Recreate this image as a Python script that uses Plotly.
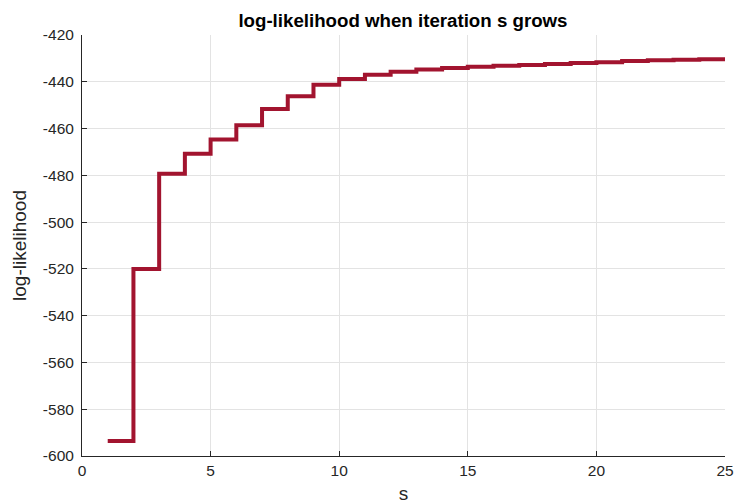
import plotly.graph_objects as go

# ── Datos ────────────────────────────────────────────────────────────────────
s_iter = list(range(1, 26))
loglik = [
    -593.6, -520.0, -479.3, -470.8, -464.7, -458.6, -451.6, -446.2, -441.3,
    -438.8, -437.0, -435.7, -434.8, -434.1, -433.6, -433.2, -432.8, -432.4,
    -432.0, -431.7, -431.1, -430.8, -430.6, -430.4, -430.3,
]
x_ticks = [0, 5, 10, 15, 20, 25]
y_ticks = list(range(-600, -419, 20))
y_tick_text = [str(v) for v in y_ticks]  # guion normal, no signo menos unicode

LINE_RED = "#A2142F"
AXIS_COL = "#262626"
GRID_COL = "#E3E3E3"
FONT = "Liberation Sans, Arial, sans-serif"

fig = go.Figure(go.Scatter(
    x=s_iter, y=loglik,
    mode="lines",
    line=dict(color=LINE_RED, width=4, shape="hv"),
    showlegend=False,
))

axis_common = dict(
    showline=True, linecolor=AXIS_COL, linewidth=1,
    ticks="inside", ticklen=5, tickcolor=AXIS_COL,
    showgrid=True, gridcolor=GRID_COL, gridwidth=1,
    zeroline=False, mirror=False, automargin=False,
    tickfont=dict(family=FONT, size=15.5, color=AXIS_COL),
)

fig.update_layout(
    width=738, height=504,
    paper_bgcolor="white", plot_bgcolor="white",
    margin=dict(l=82, r=13, t=35, b=48),
    font=dict(family=FONT, color=AXIS_COL),
    title=dict(
        text="<b>log-likelihood when iteration s grows</b>",
        font=dict(family=FONT, size=18.7, color="black"),
        x=0.546, xanchor="center", y=0.96, yanchor="middle",
    ),
    xaxis=dict(
        range=[0, 25], tickvals=x_ticks,
        title=dict(text="s", font=dict(family=FONT, size=19, color=AXIS_COL), standoff=9),
        **axis_common,
    ),
    yaxis=dict(
        range=[-600, -420], tickvals=y_ticks, ticktext=y_tick_text,
        ticklabelstandoff=4,
        title=dict(text="log-likelihood", font=dict(family=FONT, size=19, color=AXIS_COL), standoff=11),
        **axis_common,
    ),
)

# quitar el margen por defecto del <body> para que la figura ocupe la ventana
fig.write_html(
    "out.html",
    config={"displayModeBar": False},
    post_script="document.body.style.margin='0';",
)
